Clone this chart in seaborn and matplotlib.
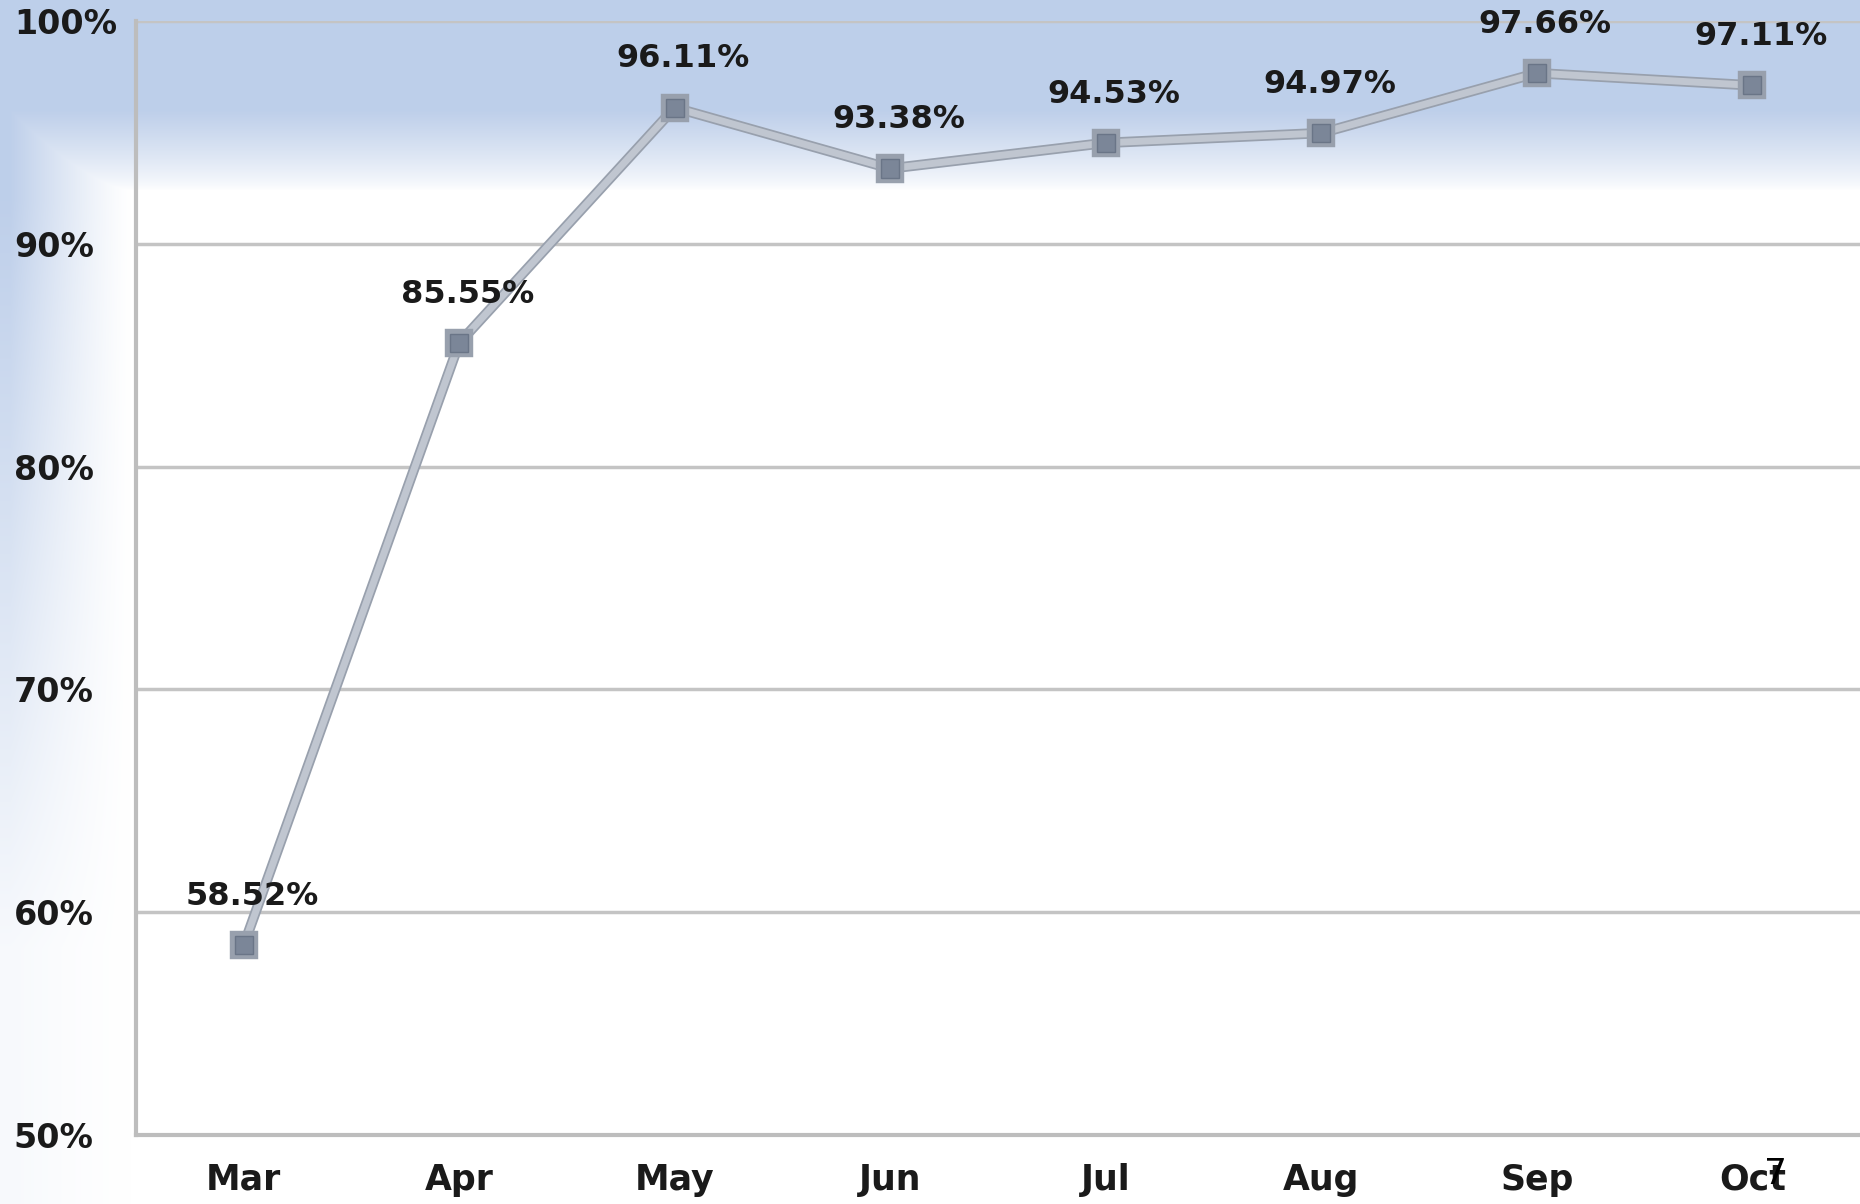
import numpy as np
import pandas as pd
import matplotlib
matplotlib.use("Agg")
import matplotlib.pyplot as plt
import matplotlib.patheffects as pe
import seaborn as sns

# данные
months = ["Mar", "Apr", "May", "Jun", "Jul", "Aug", "Sep", "Oct"]
rates = [58.52, 85.55, 96.11, 93.38, 94.53, 94.97, 97.66, 97.11]
y_ticks = [50, 60, 70, 80, 90, 100]
y_labels = ["50%", "60%", "70%", "80%", "90%", "100%"]

df = pd.DataFrame({"month": months, "rate": rates})
df["pos"] = range(len(df))

sns.set_style("white")
plt.rcParams["font.family"] = ["DejaVu Sans"]

W, H = 1860, 1204
fig = plt.figure(figsize=(W / 100, H / 100), dpi=100)

# фон с градиентом (голубой сверху и слева)
bg = fig.add_axes([0, 0, 1, 1], zorder=-5)
yy, xx = np.mgrid[0:H, 0:W]
top = np.clip((190 - yy) / 80.0, 0, 1) ** 0.8
left = np.clip((130 - xx) / 120.0, 0, 1) ** 1.2 * np.clip((1050 - yy) / 850.0, 0.12, 1)
alpha = np.maximum(top, left)
blue = np.array([0.745, 0.812, 0.918])
img = np.ones((H, W, 3)) * (1 - alpha[..., None]) + blue * alpha[..., None]
bg.imshow(img, aspect="auto", extent=[0, 1, 0, 1])
bg.axis("off")

ax = fig.add_axes([136 / W, 1 - 1135 / H, 1 - 136 / W, (1135 - 21) / H])
ax.set_facecolor("none")

for t in y_ticks:
    ax.axhline(t, color="#c4c4c4", lw=2.5, zorder=1)

sns.lineplot(data=df, x="pos", y="rate", ax=ax, color="#c0c6d0", lw=5,
             marker="s", markersize=13, markerfacecolor="#7b8698",
             markeredgecolor="#6a7587", markeredgewidth=1, zorder=3,
             path_effects=[pe.Stroke(linewidth=7.5, foreground="#98a0ad"), pe.Normal()])

for x, v in zip(df["pos"], df["rate"]):
    ax.annotate(f"{v:.2f}%", (x, v), xytext=(6, 24), textcoords="offset points",
                ha="center", va="bottom", fontsize=23, fontweight="bold", color="#1a1a1a")

ax.set_xlim(-0.5, len(months) - 0.5)
ax.set_ylim(50, 100)
ax.set_xticks(df["pos"])
ax.set_xticklabels(months, fontsize=25, fontweight="bold", color="#1a1a1a")
ax.set_yticks(y_ticks)
ax.set_yticklabels(y_labels, fontsize=24, fontweight="bold", color="#1a1a1a")
for lab in ax.get_yticklabels():
    lab.set_ha("left")
ax.tick_params(axis="y", length=0, pad=88)
ax.tick_params(axis="x", length=0, pad=20)
ax.set_xlabel("")
ax.set_ylabel("")

for s in ["top", "right"]:
    ax.spines[s].set_visible(False)
for s in ["left", "bottom"]:
    ax.spines[s].set_color("#bdbdbd")
    ax.spines[s].set_linewidth(3)

# номер слайда (в оригинале накладывается на "Oct")
fig.text(1775 / W, 1 - 1174 / H, "7", fontsize=26, color="black", ha="center", va="center")

fig.savefig("out.png", dpi=100)
